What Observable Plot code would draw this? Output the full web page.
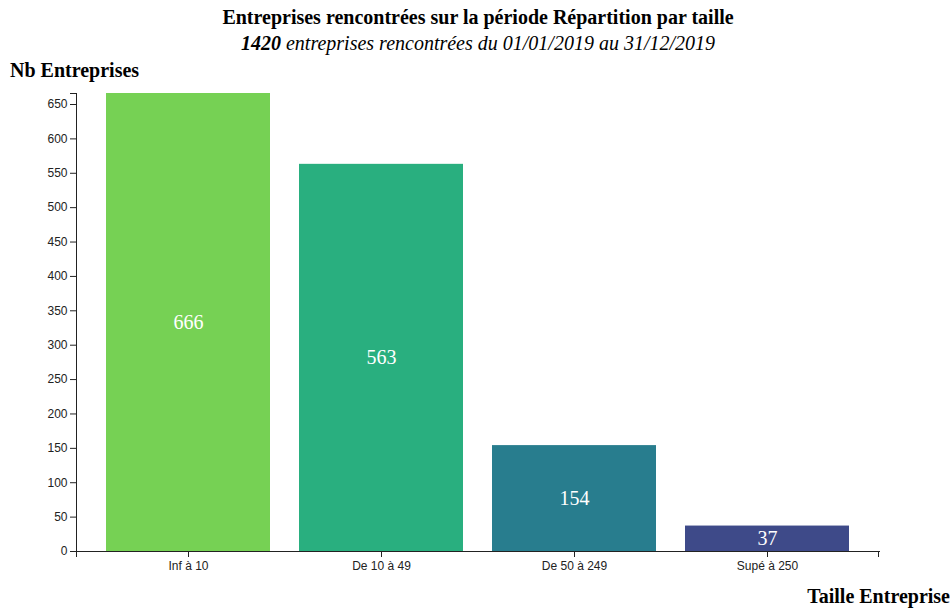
<!DOCTYPE html>
<html>
<head>
<meta charset="utf-8">
<script src="https://cdn.jsdelivr.net/npm/d3@7"></script>
<script src="https://cdn.jsdelivr.net/npm/@observablehq/plot@0.6"></script>
<style>
  html, body { margin: 0; padding: 0; background: #fff; }
  #wrap { position: relative; width: 952px; height: 610px; font-family: "Liberation Serif", "Times New Roman", serif; color: #000; }
  #title { position: absolute; left: 0; width: 956px; top: 6px; text-align: center; font-weight: bold; font-size: 20px; }
  #subtitle { position: absolute; left: 0; width: 956px; top: 32px; text-align: center; font-style: italic; font-size: 20px; }
  #ylabel { position: absolute; left: 10px; top: 59px; font-weight: bold; font-size: 20px; }
  #xlabel { position: absolute; right: 2px; top: 585px; font-weight: bold; font-size: 20px; }
  #chart { position: absolute; left: 0; top: 0; }
</style>
</head>
<body>
<div id="wrap">
  <div id="chart"></div>
  <div id="title">Entreprises rencontrées sur la période Répartition par taille</div>
  <div id="subtitle"><b>1420</b> entreprises rencontrées du 01/01/2019 au 31/12/2019</div>
  <div id="ylabel">Nb Entreprises</div>
  <div id="xlabel">Taille Entreprise</div>
</div>
<script>
const categories = ["Inf à 10", "De 10 à 49", "De 50 à 249", "Supé à 250"];
const counts = [666, 563, 154, 37];
const colors = ["#76d154", "#29af7f", "#287d8e", "#3e4a89"];
const yTicks = [0, 50, 100, 150, 200, 250, 300, 350, 400, 450, 500, 550, 600, 650];

const data = categories.map((c, i) => ({category: c, count: counts[i], color: colors[i]}));
const yMax = d3.max(counts);

// outer ticks at both ends of the x axis (d3-axis style)
function xOuterTicks(index, scales, values, dimensions) {
  const {width, height, marginLeft, marginRight, marginBottom} = dimensions;
  const y0 = height - marginBottom;
  const g = d3.create("svg:g").attr("stroke", "#222").attr("fill", "none");
  [marginLeft + 0.5, width - marginRight - 0.5].forEach(x => {
    g.append("line").attr("x1", x).attr("x2", x).attr("y1", y0).attr("y2", y0 + 6);
  });
  return g.node();
}

const chart = Plot.plot({
  width: 952,
  height: 610,
  marginTop: 93,
  marginBottom: 59,
  marginLeft: 76,
  marginRight: 73,
  style: {fontFamily: "'Liberation Sans', Arial, sans-serif", fontSize: "12px", color: "#222", background: "transparent"},
  x: {domain: categories, padding: 0.15, label: null},
  y: {domain: [0, yMax], label: null},
  marks: [
    Plot.barY(data, {x: "category", y: "count", fill: "color"}),
    Plot.text(data, {x: "category", y: d => d.count / 2, text: d => String(d.count), fill: "white", fontSize: 20, fontFamily: "'Liberation Serif', 'Times New Roman', serif"}),
    Plot.axisY({ticks: yTicks, tickSize: 6, tickPadding: 3, label: null, stroke: "#222"}),
    Plot.axisY({ticks: [yMax], tickSize: 6, tickFormat: () => "", label: null, stroke: "#222"}),
    Plot.axisX({tickSize: 6, tickPadding: 4, label: null, stroke: "#222"}),
    Plot.frame({anchor: "left", stroke: "#222"}),
    Plot.frame({anchor: "bottom", stroke: "#222"}),
    xOuterTicks
  ]
});
document.getElementById("chart").appendChild(chart);
</script>
</body>
</html>
